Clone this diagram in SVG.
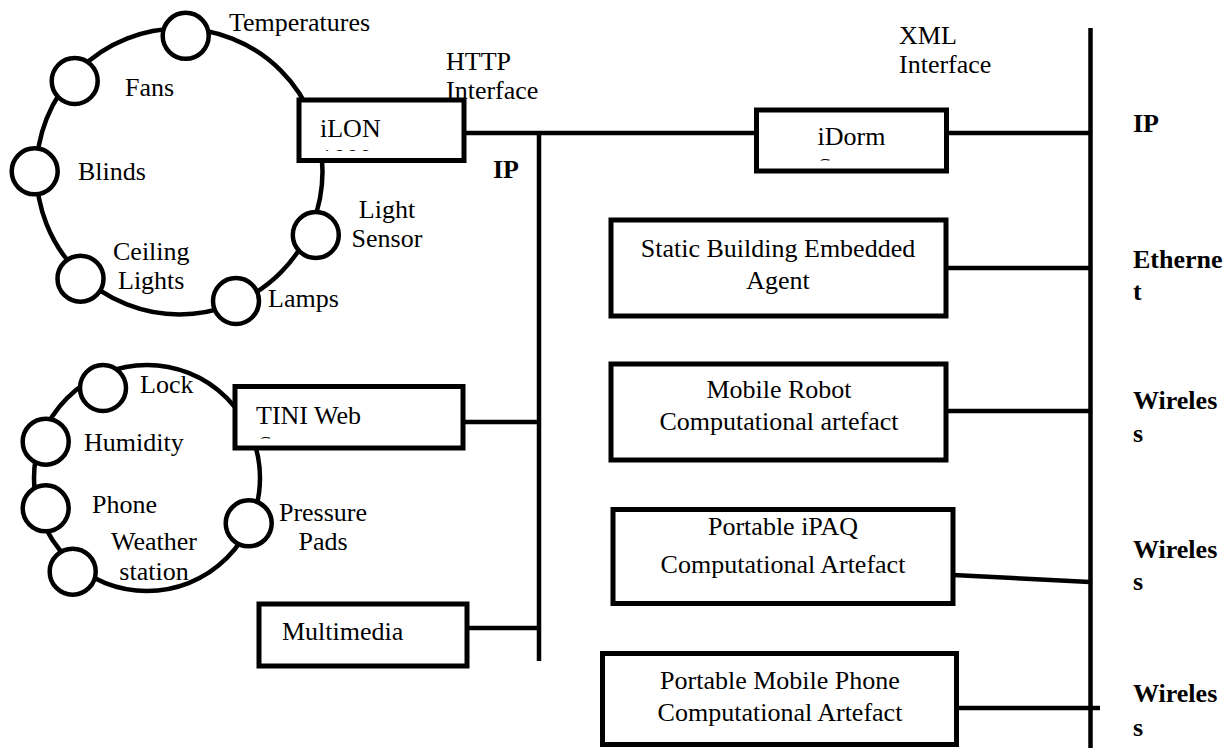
<svg xmlns="http://www.w3.org/2000/svg" width="1229" height="748" viewBox="0 0 1229 748">
<style>
.ring{fill:none;stroke:#000;stroke-width:4.5}
.dev{fill:#fff;stroke:#000;stroke-width:4.5}
.box{fill:#fff;stroke:#000;stroke-width:5}
.wire{fill:none;stroke:#000;stroke-width:4.5}
text{font-family:"Liberation Serif","Times New Roman",serif;font-size:26px;fill:#000}
.b{font-weight:bold}
.c{text-anchor:middle}
</style>
<defs>
<clipPath id="clipIlon"><rect x="300" y="100" width="160" height="51"/></clipPath>
<clipPath id="clipDorm"><rect x="758" y="110" width="186" height="50.5"/></clipPath>
<clipPath id="clipTini"><rect x="237" y="387" width="224" height="51.5"/></clipPath>
</defs>
<rect width="1229" height="748" fill="#fff"/>

<g id="ilon-ring">
<circle class="ring" cx="179.5" cy="171.5" r="143"/>
</g>
<g id="tini-ring">
<circle class="ring" cx="147" cy="478" r="113"/>
</g>

<g id="connectors">
<line class="wire" x1="539" y1="133" x2="539" y2="661"/>
<line class="wire" x1="1090.5" y1="28" x2="1090.5" y2="748"/>
<line class="wire" x1="464" y1="133" x2="757" y2="133"/>
<line class="wire" x1="946" y1="133" x2="1090" y2="133"/>
<line class="wire" x1="463" y1="422" x2="539" y2="422"/>
<line class="wire" x1="467" y1="628" x2="539" y2="628"/>
<line class="wire" x1="946" y1="268" x2="1090" y2="268"/>
<line class="wire" x1="946" y1="411" x2="1090" y2="411"/>
<line class="wire" x1="953" y1="575" x2="1090" y2="582"/>
<line class="wire" x1="957" y1="708" x2="1100" y2="708"/>
</g>

<g id="temperatures"><circle class="dev" cx="185.7" cy="35.8" r="23"/><text x="229" y="31">Temperatures</text></g>
<g id="fans"><circle class="dev" cx="74.7" cy="81" r="23"/><text x="125" y="96">Fans</text></g>
<g id="blinds"><circle class="dev" cx="34.7" cy="171.3" r="23"/><text x="78" y="180">Blinds</text></g>
<g id="ceiling-lights"><circle class="dev" cx="80.5" cy="278.7" r="23"/><text x="113" y="260">Ceiling</text><text x="118" y="289">Lights</text></g>
<g id="lamps"><circle class="dev" cx="236" cy="301" r="23"/><text x="268" y="307">Lamps</text></g>
<g id="light-sensor"><circle class="dev" cx="315.8" cy="235" r="23"/><text class="c" x="387" y="218">Light</text><text class="c" x="387" y="247">Sensor</text></g>

<g id="ilon"><rect class="box" x="299" y="100" width="165" height="60.5"/><text x="320" y="137">iLON</text><text x="320" y="167" clip-path="url(#clipIlon)">1000</text></g>

<g id="lock"><circle class="dev" cx="103" cy="388" r="23"/><text x="140" y="393">Lock</text></g>
<g id="humidity"><circle class="dev" cx="45.7" cy="441.7" r="23"/><text x="84" y="451">Humidity</text></g>
<g id="phone"><circle class="dev" cx="45.7" cy="508.3" r="23"/><text x="92" y="513">Phone</text></g>
<g id="weather-station"><circle class="dev" cx="72.7" cy="571.7" r="23"/><text class="c" x="154" y="550">Weather</text><text class="c" x="154" y="580">station</text></g>
<g id="pressure-pads"><circle class="dev" cx="248.7" cy="523.3" r="23"/><text class="c" x="323" y="521">Pressure</text><text class="c" x="323" y="550">Pads</text></g>

<g id="tini"><rect class="box" x="235" y="386.5" width="228" height="61.5"/><text x="256" y="424">TINI Web</text><text x="258" y="454" clip-path="url(#clipTini)">Server</text></g>
<g id="multimedia"><rect class="box" x="259" y="604" width="208" height="62"/><text x="282" y="640">Multimedia</text></g>

<g id="idorm"><rect class="box" x="756.5" y="110" width="190" height="61"/><text class="c" x="851.5" y="145">iDorm</text><text class="c" x="851.5" y="176" clip-path="url(#clipDorm)">Server</text></g>
<g id="static-agent"><rect class="box" x="611" y="220" width="335" height="96"/><text class="c" x="778" y="257">Static Building Embedded</text><text class="c" x="778" y="289">Agent</text></g>
<g id="mobile-robot"><rect class="box" x="611" y="364" width="335" height="96"/><text class="c" x="779" y="398">Mobile Robot</text><text class="c" x="779" y="430">Computational artefact</text></g>
<g id="ipaq"><rect class="box" x="613" y="509.5" width="340" height="94"/><text class="c" x="783" y="535">Portable iPAQ</text><text class="c" x="783" y="573">Computational Artefact</text></g>
<g id="mobile-phone"><rect class="box" x="602.5" y="653.5" width="354" height="91"/><text class="c" x="780" y="689">Portable Mobile Phone</text><text class="c" x="780" y="721">Computational Artefact</text></g>

<g id="labels">
<text x="446" y="70">HTTP</text><text x="446" y="99">Interface</text>
<text class="b" x="493" y="178">IP</text>
<text x="899" y="44">XML</text><text x="899" y="73">Interface</text>
<text class="b" x="1133" y="132">IP</text>
<text class="b" x="1133" y="268">Etherne</text><text class="b" x="1133" y="300">t</text>
<text class="b" x="1133" y="409">Wireles</text><text class="b" x="1133" y="442">s</text>
<text class="b" x="1133" y="558">Wireles</text><text class="b" x="1133" y="590">s</text>
<text class="b" x="1133" y="702">Wireles</text><text class="b" x="1133" y="736">s</text>
</g>
</svg>
